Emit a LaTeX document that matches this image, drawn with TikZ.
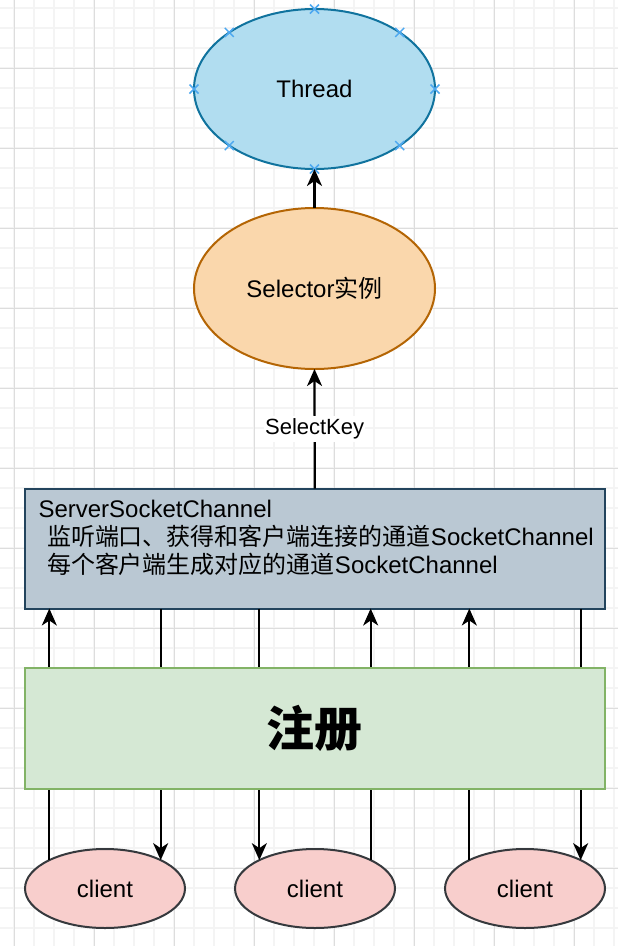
\documentclass[tikz,border=0pt]{standalone}
\usepackage{fontspec}
\setmainfont{Liberation Sans}
\newfontfamily\cjk{Noto Sans CJK SC}
\usetikzlibrary{arrows.meta,shapes.geometric,calc}
\definecolor{threadfill}{HTML}{B1DDF0}
\definecolor{threadline}{HTML}{10739E}
\definecolor{selfill}{HTML}{FAD7AC}
\definecolor{selline}{HTML}{B46504}
\definecolor{boxfill}{HTML}{BAC8D3}
\definecolor{boxline}{HTML}{23445D}
\definecolor{greenfill}{HTML}{D5E8D4}
\definecolor{greenline}{HTML}{82B366}
\definecolor{clientfill}{HTML}{F8CECC}
\definecolor{clientline}{HTML}{36393D}
\definecolor{markblue}{HTML}{4DA8F0}
\definecolor{minorgrid}{HTML}{F4F4F4}
\definecolor{majorgrid}{HTML}{DDDDDD}
\begin{document}
\begin{tikzpicture}[x=1pt,y=-1pt,
  every node/.style={inner sep=0pt, outer sep=0pt},
  f24/.style={font=\fontsize{24}{28}\selectfont},
  oval/.style={ellipse, draw, line width=2pt, minimum width=241pt, minimum height=160pt},
  clientoval/.style={ellipse, draw=clientline, fill=clientfill, line width=2pt, minimum width=160pt, minimum height=79pt, f24},
  wide/.style={rectangle, line width=2pt, minimum width=580.5pt},
  arr/.style={line width=2.2pt, -{Stealth[length=17pt,width=15pt,inset=5pt]}},
  markx/.style={draw=markblue, line width=1.5pt},
  gminor/.style={draw=minorgrid, line width=1.5pt},
  gmajor/.style={draw=majorgrid, line width=1pt},
]
\useasboundingbox (0,0) rectangle (618,946);
\fill[white] (0,0) rectangle (618,946);
% grid
\foreach \x in {14,34,...,614} \draw[gminor] (\x,0) -- (\x,946);
\foreach \y in {8,28,...,928} \draw[gminor] (0,\y) -- (618,\y);
\foreach \x in {14,94,...,574} \draw[gmajor] (\x,0) -- (\x,946);
\foreach \y in {68,148,...,868} \draw[gmajor] (0,\y) -- (618,\y);

% nodes
\node[oval, fill=threadfill, draw=threadline, f24] (thread) at (314.5,89) {Thread};
\foreach \a in {0,45,...,315}
  \draw[markx] ($(thread.center)+({120.5*cos(\a)},{80*sin(\a)})$) +(-4.5,-4.5) -- +(4.5,4.5) +(-4.5,4.5) -- +(4.5,-4.5);

\node[oval, minimum height=161pt, fill=selfill, draw=selline, f24] (sel) at (314.5,288.5) {Selector{\cjk 实例}};

\node[wide, draw=boxline, fill=boxfill, minimum height=120pt] (box) at (314.75,548.5) {};
\node[f24, anchor=base west] (t1) at (38.5,517.5) {ServerSocketChannel};
\node[f24, anchor=base west] (t2) at (47,545) {{\cjk 监听端口、获得和客户端连接的通道}SocketChannel};
\node[f24, anchor=base west] (t3) at (47,573) {{\cjk 每个客户端生成对应的通道}SocketChannel};

\node[clientoval] (c1) at (105,888.5) {client};
\node[clientoval] (c2) at (315,888.5) {client};
\node[clientoval] (c3) at (525,888.5) {client};

% connectors
\draw[arr] (sel.north) -- (thread.south);
\draw[arr] (box.north) -- node[fill=white, font=\fontsize{22}{24}\selectfont, inner xsep=1pt, inner ysep=3pt] (lbl) {SelectKey} (sel.south);

\draw[arr] (c1.153) -- (c1.153 |- box.south);
\draw[arr] (c1.27 |- box.south) -- (c1.27);
\draw[arr] (c2.153 |- box.south) -- (c2.153);
\draw[arr] (c2.27) -- (c2.27 |- box.south);
\draw[arr] (c3.153) -- (c3.153 |- box.south);
\draw[arr] (c3.27 |- box.south) -- (c3.27);

% register box on top of connectors
\node[wide, draw=greenline, fill=greenfill, minimum height=121pt, font=\fontsize{48}{52}\selectfont\cjk\bfseries] (reg) at (314.75,728.5) {注册};
\end{tikzpicture}
\end{document}
